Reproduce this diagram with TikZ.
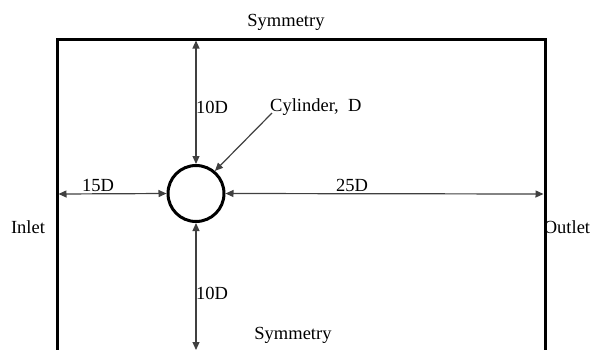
\documentclass[tikz,border=0pt]{standalone}
\usepackage{fontspec}
\setmainfont{Liberation Serif}
\usetikzlibrary{arrows.meta}
\begin{document}
\begin{tikzpicture}[x=1pt,y=-1pt,
  wall/.style={line width=3pt,line cap=butt},
  dim/.style={line width=1.2pt,draw=black!75,{Triangle[length=8pt,width=7pt]}-{Triangle[length=8pt,width=7pt]}},
  lead/.style={line width=1.2pt,draw=black!75,-{Triangle[length=8pt,width=7pt]}},
  lbl/.style={inner sep=0pt,font=\fontsize{18.5}{22}\selectfont}]
\useasboundingbox (0,0) rectangle (590,349);
\coordinate (bl) at (57,360);
\coordinate (tl) at (57,39);
\coordinate (tr) at (545,39);
\coordinate (br) at (545,360);
\draw[wall] (bl) -- (tl) -- (tr) -- (br);
\node[circle,draw,line width=3pt,minimum size=56pt,inner sep=0pt] (cyl) at (196,193.5) {};
\coordinate (t) at (196,40.5);
\coordinate (b) at (196,350);
\coordinate (l) at (58.5,194);
\coordinate (r) at (543.5,194);
\coordinate (c) at (272,113);
\draw[dim] (cyl.north) -- (t);
\draw[dim] (cyl.south) -- (b);
\draw[dim] (l) -- (cyl.west);
\draw[dim] (cyl.east) -- (r);
\draw[lead] (c) -- (cyl.50);
\node[lbl] (sym1) at (286,22) {Symmetry};
\node[lbl] (sym2) at (293,335) {Symmetry};
\node[lbl,anchor=west] (d1) at (196,107) {10D};
\node[lbl,anchor=west] (d2) at (196,293) {10D};
\node[lbl,anchor=west] (cl) at (270,107) {Cylinder,\ \ D};
\node[lbl] (d15) at (98,185) {15D};
\node[lbl] (d25) at (352,185) {25D};
\node[lbl] (inl) at (28,227) {Inlet};
\node[lbl] (outl) at (567,227) {Outlet};
\end{tikzpicture}
\end{document}
